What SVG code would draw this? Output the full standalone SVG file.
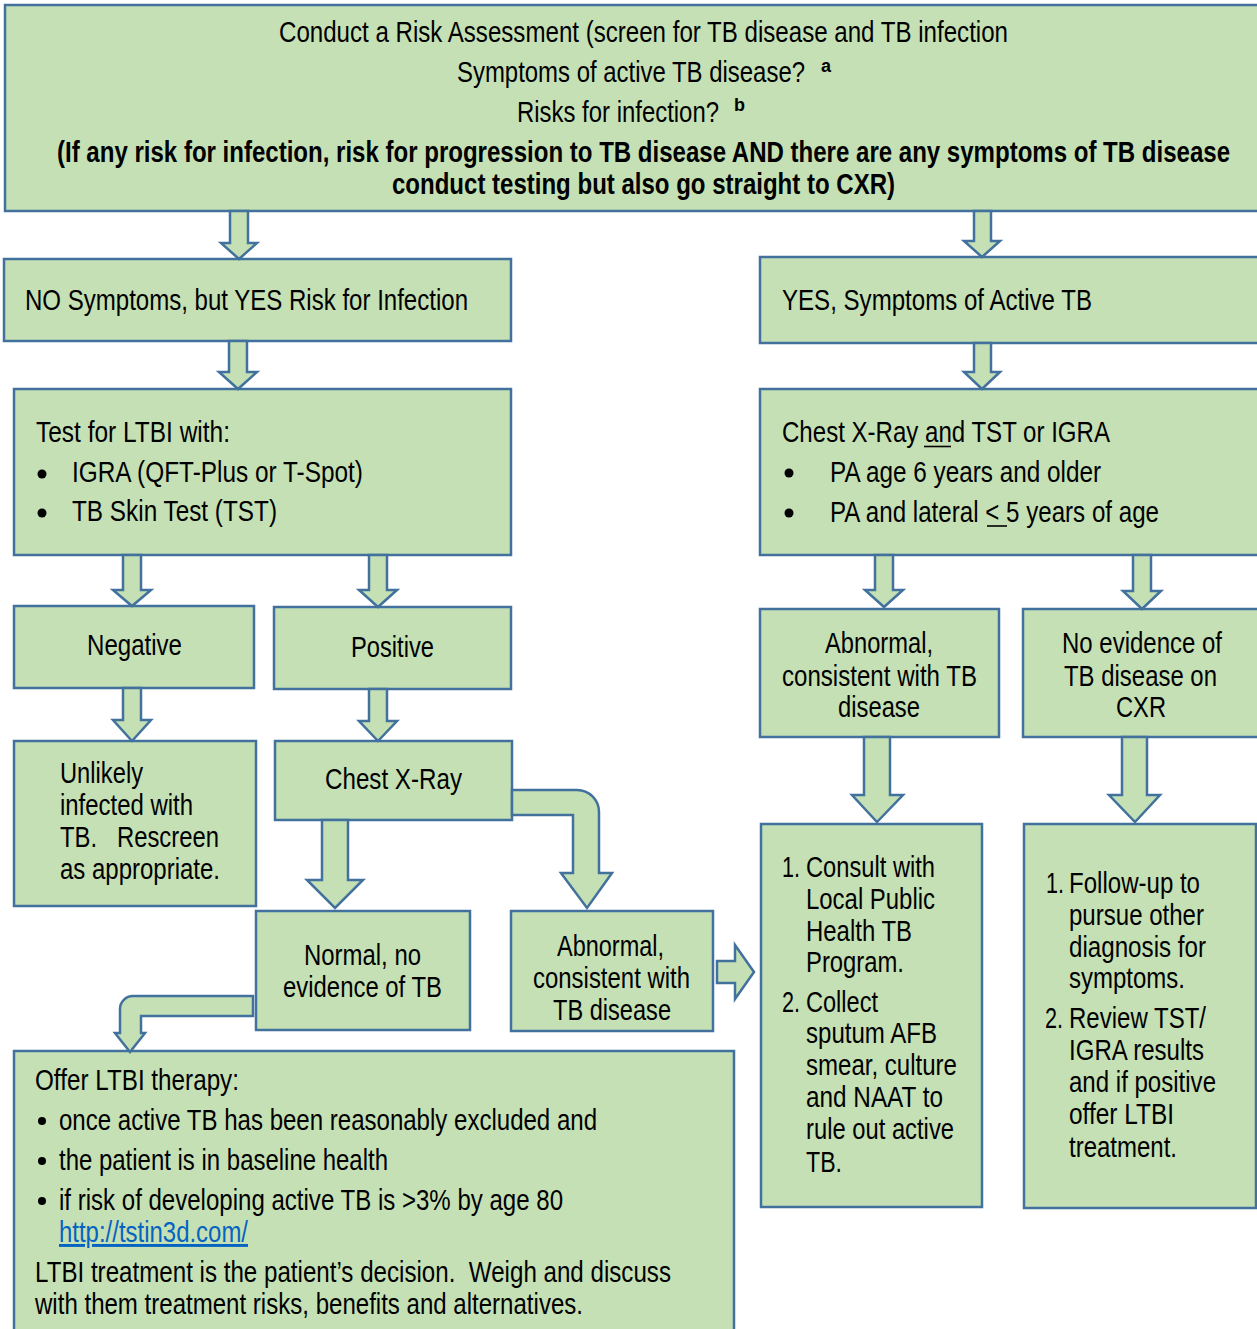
<svg xmlns="http://www.w3.org/2000/svg" width="1257" height="1329" viewBox="0 0 1257 1329">
<style>
.box{fill:#C5E0B4;stroke:#41719C;stroke-width:2.5}
.arr{fill:#C5E0B4;stroke:#41719C;stroke-width:2.5;stroke-linejoin:miter}
text{font-family:"Liberation Sans Narrow","Arial Narrow","Liberation Sans",Arial,sans-serif;font-size:29px;fill:#000;white-space:pre}
.b{font-weight:bold}
.sup{font-size:18px;font-weight:bold}
.link{fill:#0563C1;text-decoration:underline}
.dot{fill:#000}
.ul{stroke:#000;stroke-width:1.6}
</style>
<rect width="1257" height="1329" fill="#fff"/>

<g id="n-assess">
<rect class="box" x="5" y="5" width="1262" height="206"/>
<text x="279" y="42" textLength="729" lengthAdjust="spacingAndGlyphs">Conduct a Risk Assessment (screen for TB disease and TB infection</text>
<text x="457" y="82" textLength="348" lengthAdjust="spacingAndGlyphs">Symptoms of active TB disease?</text>
<text class="sup" x="821" y="72">a</text>
<text x="517" y="122" textLength="202" lengthAdjust="spacingAndGlyphs">Risks for infection?</text>
<text class="sup" x="734" y="111">b</text>
<text class="b" x="57" y="162" textLength="1173" lengthAdjust="spacingAndGlyphs">(If any risk for infection, risk for progression to TB disease AND there are any symptoms of TB disease</text>
<text class="b" x="392" y="194" textLength="503" lengthAdjust="spacingAndGlyphs">conduct testing but also go straight to CXR)</text>
</g>

<g id="n-nosymptoms">
<rect class="box" x="4" y="259" width="507" height="82"/>
<text x="25" y="310" textLength="443" lengthAdjust="spacingAndGlyphs">NO Symptoms, but YES Risk for Infection</text>
</g>

<g id="n-yessymptoms">
<rect class="box" x="760" y="257" width="502" height="86"/>
<text x="782" y="310" textLength="310" lengthAdjust="spacingAndGlyphs">YES, Symptoms of Active TB</text>
</g>

<g id="n-testltbi">
<rect class="box" x="14" y="389" width="497" height="166"/>
<text x="36" y="442" textLength="194" lengthAdjust="spacingAndGlyphs">Test for LTBI with:</text>
<circle class="dot" cx="42" cy="474" r="4.5"/>
<text x="72" y="482" textLength="291" lengthAdjust="spacingAndGlyphs">IGRA (QFT-Plus or T-Spot)</text>
<circle class="dot" cx="42" cy="513" r="4.5"/>
<text x="72" y="521" textLength="205" lengthAdjust="spacingAndGlyphs">TB Skin Test (TST)</text>
</g>

<g id="n-cxrtst">
<rect class="box" x="760" y="389" width="502" height="166"/>
<text x="782" y="442" textLength="328" lengthAdjust="spacingAndGlyphs">Chest X-Ray and TST or IGRA</text>
<line class="ul" x1="924" y1="446.5" x2="951" y2="446.5"/>
<circle class="dot" cx="789" cy="473" r="4.5"/>
<text x="830" y="482" textLength="271" lengthAdjust="spacingAndGlyphs">PA age 6 years and older</text>
<circle class="dot" cx="789" cy="513" r="4.5"/>
<text x="830" y="522" textLength="329" lengthAdjust="spacingAndGlyphs">PA and lateral &lt; 5 years of age</text>
<line class="ul" x1="987" y1="526" x2="1007" y2="526"/>
</g>

<g id="n-negative">
<rect class="box" x="14" y="606" width="240" height="82"/>
<text x="87" y="655" textLength="95" lengthAdjust="spacingAndGlyphs">Negative</text>
</g>

<g id="n-positive">
<rect class="box" x="274" y="607" width="237" height="82"/>
<text x="351" y="657" textLength="83" lengthAdjust="spacingAndGlyphs">Positive</text>
</g>

<g id="n-unlikely">
<rect class="box" x="14" y="741" width="242" height="165"/>
<text x="60" y="783" textLength="83" lengthAdjust="spacingAndGlyphs">Unlikely</text>
<text x="60" y="815" textLength="133" lengthAdjust="spacingAndGlyphs">infected with</text>
<text x="60" y="847" textLength="159" lengthAdjust="spacingAndGlyphs">TB.   Rescreen</text>
<text x="60" y="879" textLength="160" lengthAdjust="spacingAndGlyphs">as appropriate.</text>
</g>

<g id="n-chestxray">
<rect class="box" x="275" y="741" width="237" height="79"/>
<text x="325" y="789" textLength="137" lengthAdjust="spacingAndGlyphs">Chest X-Ray</text>
</g>

<g id="n-normal">
<rect class="box" x="256" y="911" width="214" height="119"/>
<text x="304" y="965" textLength="117" lengthAdjust="spacingAndGlyphs">Normal, no</text>
<text x="283" y="997" textLength="159" lengthAdjust="spacingAndGlyphs">evidence of TB</text>
</g>

<g id="n-abnormal-left">
<rect class="box" x="511" y="911" width="202" height="120"/>
<text x="557" y="956" textLength="107" lengthAdjust="spacingAndGlyphs">Abnormal,</text>
<text x="533" y="988" textLength="157" lengthAdjust="spacingAndGlyphs">consistent with</text>
<text x="553" y="1020" textLength="118" lengthAdjust="spacingAndGlyphs">TB disease</text>
</g>

<g id="n-abnormal-right">
<rect class="box" x="760" y="609" width="239" height="128"/>
<text x="825" y="653" textLength="108" lengthAdjust="spacingAndGlyphs">Abnormal,</text>
<text x="782" y="686" textLength="195" lengthAdjust="spacingAndGlyphs">consistent with TB</text>
<text x="838" y="717" textLength="82" lengthAdjust="spacingAndGlyphs">disease</text>
</g>

<g id="n-noevidence">
<rect class="box" x="1023" y="609" width="239" height="128"/>
<text x="1062" y="653" textLength="160" lengthAdjust="spacingAndGlyphs">No evidence of</text>
<text x="1064" y="686" textLength="153" lengthAdjust="spacingAndGlyphs">TB disease on</text>
<text x="1116" y="717" textLength="50" lengthAdjust="spacingAndGlyphs">CXR</text>
</g>

<g id="n-consult">
<rect class="box" x="761" y="824" width="221" height="383"/>
<text x="782" y="877" textLength="18" lengthAdjust="spacingAndGlyphs">1.</text>
<text x="806" y="877" textLength="129" lengthAdjust="spacingAndGlyphs">Consult with</text>
<text x="806" y="909" textLength="129" lengthAdjust="spacingAndGlyphs">Local Public</text>
<text x="806" y="941" textLength="106" lengthAdjust="spacingAndGlyphs">Health TB</text>
<text x="806" y="972" textLength="98" lengthAdjust="spacingAndGlyphs">Program.</text>
<text x="782" y="1012" textLength="18" lengthAdjust="spacingAndGlyphs">2.</text>
<text x="806" y="1012" textLength="72" lengthAdjust="spacingAndGlyphs">Collect</text>
<text x="806" y="1043" textLength="131" lengthAdjust="spacingAndGlyphs">sputum AFB</text>
<text x="806" y="1075" textLength="151" lengthAdjust="spacingAndGlyphs">smear, culture</text>
<text x="806" y="1107" textLength="137" lengthAdjust="spacingAndGlyphs">and NAAT to</text>
<text x="806" y="1139" textLength="148" lengthAdjust="spacingAndGlyphs">rule out active</text>
<text x="806" y="1172" textLength="36" lengthAdjust="spacingAndGlyphs">TB.</text>
</g>

<g id="n-followup">
<rect class="box" x="1024" y="824" width="232" height="384"/>
<text x="1046" y="893" textLength="18" lengthAdjust="spacingAndGlyphs">1.</text>
<text x="1069" y="893" textLength="131" lengthAdjust="spacingAndGlyphs">Follow-up to</text>
<text x="1069" y="925" textLength="135" lengthAdjust="spacingAndGlyphs">pursue other</text>
<text x="1069" y="957" textLength="137" lengthAdjust="spacingAndGlyphs">diagnosis for</text>
<text x="1069" y="988" textLength="116" lengthAdjust="spacingAndGlyphs">symptoms.</text>
<text x="1045" y="1028" textLength="18" lengthAdjust="spacingAndGlyphs">2.</text>
<text x="1069" y="1028" textLength="137" lengthAdjust="spacingAndGlyphs">Review TST/</text>
<text x="1069" y="1060" textLength="135" lengthAdjust="spacingAndGlyphs">IGRA results</text>
<text x="1069" y="1092" textLength="147" lengthAdjust="spacingAndGlyphs">and if positive</text>
<text x="1069" y="1124" textLength="105" lengthAdjust="spacingAndGlyphs">offer LTBI</text>
<text x="1069" y="1157" textLength="108" lengthAdjust="spacingAndGlyphs">treatment.</text>
</g>

<g id="n-offer">
<rect class="box" x="14" y="1051" width="720" height="290"/>
<text x="35" y="1090" textLength="204" lengthAdjust="spacingAndGlyphs">Offer LTBI therapy:</text>
<circle class="dot" cx="42" cy="1121" r="4"/>
<text x="59" y="1130" textLength="538" lengthAdjust="spacingAndGlyphs">once active TB has been reasonably excluded and</text>
<circle class="dot" cx="42" cy="1161" r="4"/>
<text x="59" y="1170" textLength="329" lengthAdjust="spacingAndGlyphs">the patient is in baseline health</text>
<circle class="dot" cx="42" cy="1201" r="4"/>
<text x="59" y="1210" textLength="504" lengthAdjust="spacingAndGlyphs">if risk of developing active TB is &gt;3% by age 80</text>
<text class="link" x="59" y="1242" textLength="189" lengthAdjust="spacingAndGlyphs">http://tstin3d.com/</text>
<text x="35" y="1282" textLength="636" lengthAdjust="spacingAndGlyphs">LTBI treatment is the patient’s decision.  Weigh and discuss</text>
<text x="35" y="1314" textLength="548" lengthAdjust="spacingAndGlyphs">with them treatment risks, benefits and alternatives.</text>
</g>

<g id="connectors">
<path class="arr" d="M230,211 V243 H221 L239,259 L257,243 H248 V211 Z"/>
<path class="arr" d="M974,211 V241 H964 L982,257 L1000,241 H991 V211 Z"/>
<path class="arr" d="M229,341 V372 H219 L238,389 L257,372 H247 V341 Z"/>
<path class="arr" d="M974,343 V372 H964 L982,389 L1000,372 H991 V343 Z"/>
<path class="arr" d="M123,555 V590 H113 L132,606 L151,590 H141 V555 Z"/>
<path class="arr" d="M369,555 V590 H359 L378,607 L397,590 H387 V555 Z"/>
<path class="arr" d="M123,688 V720 H113 L132,741 L151,720 H141 V688 Z"/>
<path class="arr" d="M369,689 V721 H359 L378,741 L397,721 H387 V689 Z"/>
<path class="arr" d="M322,820 V880 H307 L335,908 L363,880 H348 V820 Z"/>
<path class="arr" d="M512,790 H577 A22,22 0 0 1 599,812 V873 H612 L587,908 L561,873 H573 V815 H512 Z"/>
<path class="arr" d="M253,996 H133 A13,13 0 0 0 120,1009 V1033 H115 L130,1052 L145,1033 H141 V1016 H253 Z"/>
<path class="arr" d="M717,961 H735 V945 L754,972 L735,999 V983 H717 Z"/>
<path class="arr" d="M875,555 V590 H865 L884,607 L903,590 H893 V555 Z"/>
<path class="arr" d="M1133,555 V591 H1123 L1142,609 L1161,591 H1151 V555 Z"/>
<path class="arr" d="M864,737 V795 H852 L877,822 L903,795 H890 V737 Z"/>
<path class="arr" d="M1122,737 V795 H1109 L1135,822 L1160,795 H1147 V737 Z"/>
</g>
</svg>
